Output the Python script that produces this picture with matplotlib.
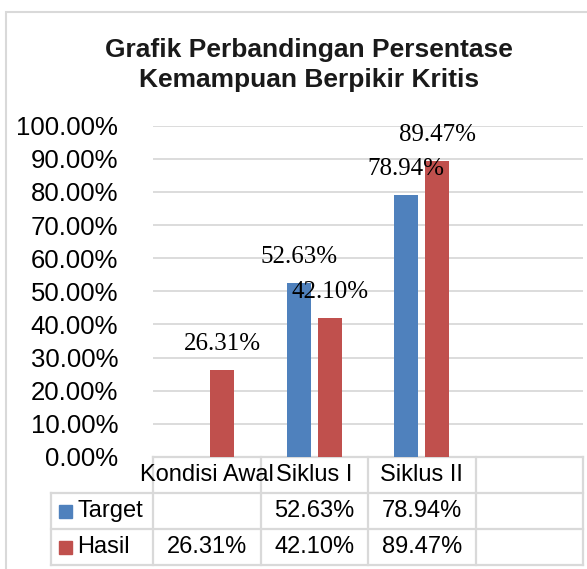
import numpy as np
import matplotlib.pyplot as plt
from matplotlib.transforms import blended_transform_factory
from matplotlib.patches import Rectangle

# --- data ---
categories = ['Kondisi Awal', 'Siklus I', 'Siklus II', '']
series_names = ['Target', 'Hasil']
target = [None, 0.5263, 0.7894, None]
hasil = [0.2631, 0.4210, 0.8947, None]
yticks = [0.0, 0.1, 0.2, 0.3, 0.4, 0.5, 0.6, 0.7, 0.8, 0.9, 1.0]
title_lines = ['Grafik Perbandingan Persentase', 'Kemampuan Berpikir Kritis']

blue = '#4f81bd'
red = '#c0504d'
grid_c = '#d9d9d9'
sans = 'Liberation Sans'
serif = 'Liberation Serif'

W, H = 587, 569
fig = plt.figure(figsize=(W / 100, H / 100), dpi=100)

# outer chart frame (right/bottom edges fall outside the picture)
fig.patches.append(Rectangle((6 / W, -0.1), 1.2, (H - 12) / H + 0.1,
                             transform=fig.transFigure, fill=False,
                             edgecolor=grid_c, linewidth=1.5))

# plot area in pixels
left, right = 153, 583
top, bottom = 125.7, 457
ax = fig.add_axes([left / W, (H - bottom) / H, (right - left) / W, (bottom - top) / H])

x = np.arange(len(categories))
bw = 0.223
off = 0.144
series = [target, hasil]
colors = [blue, red]
for k, (vals, col) in enumerate(zip(series, colors)):
    xs = [xi + (k * 2 - 1) * off for xi, v in zip(x, vals) if v is not None]
    vs = [v for v in vals if v is not None]
    ax.bar(xs, vs, width=bw, color=col, zorder=3)
    for xi, v in zip(xs, vs):
        ax.annotate(f'{v * 100:.2f}%', (xi, v), xytext=(0, 18.7),
                    textcoords='offset points', ha='center', va='center',
                    fontsize=18, family=serif, color='black', zorder=5)

ax.set_xlim(-0.5, len(categories) - 0.5)
ax.set_ylim(0, 1)
ax.set_yticks(yticks)
ax.set_yticklabels([f'{t * 100:.2f}%' for t in yticks], family=sans, fontsize=18.5)
ax.tick_params(axis='y', length=0, pad=25)
ax.set_xticks([])
for t in yticks[1:]:
    ax.axhline(t, color=grid_c, linewidth=1.3, zorder=1)
for s in ax.spines.values():
    s.set_visible(False)

# --- data table under the axis ---
tr = blended_transform_factory(ax.transData, ax.transAxes)
ph = bottom - top
row_h = 36 / ph
x0 = -0.5
xl = -0.5 - 102 / 107.5
xe = len(categories) - 0.5
rows = [0, -row_h, -2 * row_h, -3 * row_h]
lk = dict(color=grid_c, linewidth=1.6, transform=tr, clip_on=False, zorder=2)

ax.plot([x0, xe], [rows[0], rows[0]], **lk)
for r in rows[1:]:
    ax.plot([xl, xe], [r, r], **lk)
ax.plot([xl, xl], [rows[1], rows[3]], **lk)
for i in range(len(categories) + 1):
    ax.plot([x0 + i, x0 + i], [rows[0], rows[3]], **lk)

tk = dict(transform=tr, clip_on=False, family=sans, fontsize=17, va='center')
for i, c in enumerate(categories):
    ax.text(x[i], (rows[0] + rows[1]) / 2, c, ha='center', **tk)
for r, (name, vals, col) in enumerate(zip(series_names, series, colors)):
    yc = (rows[r + 1] + rows[r + 2]) / 2
    ax.add_patch(Rectangle((xl + 8 / 107.5, yc - 6.5 / ph), 13 / 107.5, 13 / ph,
                           transform=tr, clip_on=False, color=col))
    ax.text(xl + 26 / 107.5, yc, name, ha='left', **tk)
    for i, v in enumerate(vals):
        if v is not None:
            ax.text(x[i], yc, f'{v * 100:.2f}%', ha='center', **tk)

# title, two lines placed on their baselines
for line, base in zip(title_lines, [57, 87]):
    fig.text(309 / W, 1 - base / H, line, ha='center', va='baseline',
             family=sans, fontsize=19, fontweight='bold', color='#1a1a1a')

fig.savefig('out.png', dpi=100)
